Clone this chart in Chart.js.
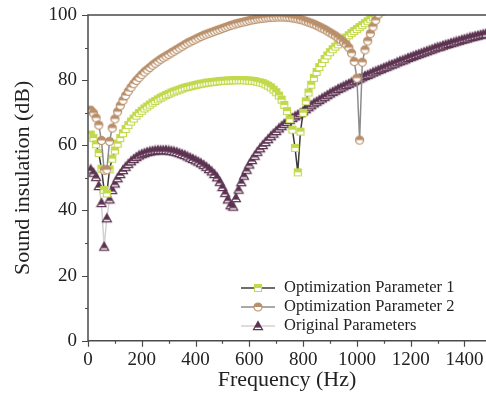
<!DOCTYPE html>
<html>
<head>
<meta charset="utf-8">
<script src="https://cdn.jsdelivr.net/npm/chart.js@4"></script>
<style>
  html, body { margin: 0; padding: 0; background: #fff; }
  #chart { display: block; }
</style>
</head>
<body>
<canvas id="chart" width="486" height="400"></canvas>
<script>
// frequency grid (Hz) shared by all three curves
const freqs = [
  10, 20, 30, 40, 50, 60, 70, 80, 90, 100,
  110, 120, 130, 140, 150, 160, 170, 180, 190, 200,
  210, 220, 230, 240, 250, 260, 270, 280, 290, 300,
  310, 320, 330, 340, 350, 360, 370, 380, 390, 400,
  410, 420, 430, 440, 450, 460, 470, 480, 490, 500,
  510, 520, 530, 540, 550, 560, 570, 580, 590, 600,
  610, 620, 630, 640, 650, 660, 670, 680, 690, 700,
  710, 720, 730, 740, 750, 760, 770, 780, 790, 800,
  810, 820, 830, 840, 850, 860, 870, 880, 890, 900,
  910, 920, 930, 940, 950, 960, 970, 980, 990, 1000,
  1010, 1020, 1030, 1040, 1050, 1060, 1070, 1080, 1090, 1100,
  1110, 1120, 1130, 1140, 1150, 1160, 1170, 1180, 1190, 1200,
  1210, 1220, 1230, 1240, 1250, 1260, 1270, 1280, 1290, 1300,
  1310, 1320, 1330, 1340, 1350, 1360, 1370, 1380, 1390, 1400,
  1410, 1420, 1430, 1440, 1450, 1460, 1470, 1480
];

// Optimization Parameter 1 (dB)
const opt1 = [
  63.3, 62.2, 60.3, 57.6, 52.8, 46.3, 45.2, 52.6, 55.9, 58.4,
  60.5, 62.2, 63.7, 65.0, 66.2, 67.3, 68.2, 69.1, 69.9, 70.6,
  71.3, 71.9, 72.5, 73.1, 73.6, 74.1, 74.6, 75.0, 75.4, 75.8,
  76.2, 76.5, 76.8, 77.1, 77.4, 77.7, 77.9, 78.1, 78.3, 78.5,
  78.7, 78.9, 79.0, 79.2, 79.3, 79.4, 79.5, 79.6, 79.7, 79.8,
  79.8, 79.9, 79.9, 80.0, 80.0, 80.0, 80.0, 80.0, 79.9, 79.9,
  79.8, 79.7, 79.5, 79.3, 79.1, 78.7, 78.3, 77.8, 77.1, 76.3,
  75.3, 74.0, 72.4, 70.5, 68.0, 64.8, 59.2, 51.7, 64.2, 70.0,
  73.5, 76.2, 78.6, 80.7, 82.5, 84.0, 85.3, 86.5, 87.6, 88.6,
  89.5, 90.3, 91.0, 91.7, 92.4, 93.1, 93.8, 94.5, 95.1, 95.7,
  96.3, 96.9, 97.5, 98.1, 98.7, 99.3, 99.8, 100.4, 101.0, 101.6
];

// Optimization Parameter 2 (dB)
const opt2 = [
  70.8, 69.9, 68.4, 66.2, 61.5, 52.3, 52.5, 61.2, 65.3, 68.1,
  70.3, 72.2, 73.8, 75.3, 76.6, 77.8, 78.9, 79.9, 80.8, 81.7,
  82.5, 83.2, 83.9, 84.6, 85.2, 85.8, 86.4, 86.9, 87.4, 87.9,
  88.4, 88.9, 89.4, 89.9, 90.4, 90.9, 91.4, 91.8, 92.2, 92.6,
  93.0, 93.4, 93.8, 94.1, 94.4, 94.7, 95.0, 95.3, 95.6, 95.9,
  96.2, 96.5, 96.8, 97.0, 97.3, 97.5, 97.7, 97.9, 98.1, 98.3,
  98.5, 98.6, 98.8, 98.9, 99.0, 99.1, 99.2, 99.3, 99.3, 99.4,
  99.4, 99.4, 99.4, 99.3, 99.2, 99.1, 99.0, 98.8, 98.6, 98.4,
  98.1, 97.8, 97.5, 97.2, 96.8, 96.4, 96.0, 95.6, 95.1, 94.6,
  94.1, 93.6, 93.0, 92.4, 91.7, 91.0, 90.0, 88.3, 85.7, 80.6,
  61.6, 85.5, 89.3, 92.0, 94.3, 96.4, 98.4, 100.3, 102.0, 103.6
];

// Original Parameters (dB)
const original = [
  52.6, 51.6, 50.3, 47.5, 42.3, 28.9, 37.6, 43.4, 46.3, 48.3,
  49.9, 51.2, 52.4, 53.4, 54.3, 55.1, 55.8, 56.4, 56.9, 57.3,
  57.6, 57.9, 58.1, 58.3, 58.4, 58.5, 58.5, 58.5, 58.5, 58.4,
  58.3, 58.1, 57.9, 57.6, 57.3, 57.0, 56.6, 56.2, 55.8, 55.4,
  55.0, 54.5, 54.0, 53.4, 52.7, 52.0, 51.2, 50.2, 48.8, 47.2,
  45.4, 43.4, 41.6, 41.2, 43.8, 46.4, 48.7, 50.7, 52.5, 54.1,
  55.5, 56.8, 58.0, 59.1, 60.1, 61.0, 61.9, 62.8, 63.6, 64.4,
  65.2, 65.9, 66.6, 67.2, 67.8, 68.4, 68.9, 69.4, 69.9, 70.5,
  71.1, 71.7, 72.3, 72.9, 73.4, 73.9, 74.4, 74.9, 75.4, 75.9,
  76.4, 76.8, 77.3, 77.7, 78.1, 78.5, 78.9, 79.3, 79.7, 80.1,
  80.5, 80.9, 81.3, 81.6, 82.0, 82.4, 82.7, 83.1, 83.4, 83.8,
  84.1, 84.5, 84.8, 85.1, 85.5, 85.8, 86.1, 86.4, 86.8, 87.1,
  87.4, 87.7, 88.0, 88.3, 88.6, 88.9, 89.2, 89.5, 89.8, 90.1,
  90.3, 90.6, 90.9, 91.1, 91.4, 91.6, 91.9, 92.1, 92.4, 92.6,
  92.8, 93.1, 93.3, 93.5, 93.7, 93.9, 94.1, 94.3
];

const xTicks = [0, 200, 400, 600, 800, 1000, 1200, 1400];
const xMinorTicks = [100, 300, 500, 700, 900, 1100, 1300];
const yTicks = [0, 20, 40, 60, 80, 100];
const yMinorTicks = [10, 30, 50, 70, 90];

const FONT = "'Liberation Serif', 'DejaVu Serif', serif";
const AXIS = '#4a4a4a';

// half-filled markers (top part coloured, bottom white)
function markerPath(g, shape, x, y, s) {
  const h = s / 2;
  g.beginPath();
  if (shape === 'square') {
    g.rect(x - h, y - h, s, s);
  } else if (shape === 'circle') {
    g.arc(x, y, h, 0, Math.PI * 2);
  } else {
    g.moveTo(x, y - h);
    g.lineTo(x + h, y + h * 0.8);
    g.lineTo(x - h, y + h * 0.8);
    g.closePath();
  }
}

function drawMarker(g, shape, x, y, s, color) {
  markerPath(g, shape, x, y, s);
  g.fillStyle = '#fff';
  g.fill();
  g.save();
  g.clip();
  g.fillStyle = color;
  const cut = shape === 'triangle' ? y + s * 0.18 : y;
  g.fillRect(x - s, y - s, 2 * s, cut - (y - s));
  g.restore();
  markerPath(g, shape, x, y, s);
  g.strokeStyle = color;
  g.lineWidth = 1.2;
  g.stroke();
}

function makeMarker(shape, color, s) {
  const c = document.createElement('canvas');
  c.width = s + 3;
  c.height = s + 3;
  drawMarker(c.getContext('2d'), shape, c.width / 2, c.height / 2, s, color);
  return c;
}

const series = [
  { label: 'Optimization Parameter 1', values: opt1, shape: 'square', size: 7, color: '#c3d94c', line: '#3c3c3c', order: 1 },
  { label: 'Optimization Parameter 2', values: opt2, shape: 'circle', size: 8, color: '#b98f6a', line: '#8c8c8c', order: 0 },
  { label: 'Original Parameters', values: original, shape: 'triangle', size: 9, color: '#5c3351', line: '#d2d2d2', order: 2 }
];

const datasets = series.map(s => ({
  label: s.label,
  data: s.values.map((v, i) => ({ x: freqs[i], y: v })),
  borderColor: s.line,
  borderWidth: 1.5,
  pointStyle: makeMarker(s.shape, s.color, s.size),
  pointRadius: s.size / 2,
  order: s.order,
  tension: 0
}));

// axis frame, outward tick marks and the legend
const framePlugin = {
  id: 'frame',
  afterDraw(chart) {
    const { ctx, chartArea: a, scales: { x, y } } = chart;
    ctx.save();
    ctx.strokeStyle = AXIS;
    ctx.lineWidth = 1.5;
    ctx.beginPath();
    ctx.moveTo(a.right, a.top);
    ctx.lineTo(a.left, a.top);
    ctx.lineTo(a.left, a.bottom);
    ctx.lineTo(a.right, a.bottom);
    ctx.stroke();

    ctx.lineWidth = 1.2;
    ctx.beginPath();
    xTicks.forEach(v => {
      const px = Math.round(x.getPixelForValue(v)) + 0.5;
      ctx.moveTo(px, a.bottom);
      ctx.lineTo(px, a.bottom + 6);
    });
    xMinorTicks.forEach(v => {
      const px = Math.round(x.getPixelForValue(v)) + 0.5;
      ctx.moveTo(px, a.bottom);
      ctx.lineTo(px, a.bottom + 3);
    });
    yTicks.forEach(v => {
      const py = Math.round(y.getPixelForValue(v)) + 0.5;
      ctx.moveTo(a.left, py);
      ctx.lineTo(a.left - 6, py);
    });
    yMinorTicks.forEach(v => {
      const py = Math.round(y.getPixelForValue(v)) + 0.5;
      ctx.moveTo(a.left, py);
      ctx.lineTo(a.left - 3, py);
    });
    ctx.stroke();

    // legend
    const rows = [288, 307, 326];
    ctx.font = '16.5px ' + FONT;
    ctx.textBaseline = 'middle';
    ctx.textAlign = 'left';
    series.forEach((s, i) => {
      const ly = rows[i];
      ctx.strokeStyle = s.line;
      ctx.lineWidth = 1.5;
      ctx.beginPath();
      ctx.moveTo(241, ly);
      ctx.lineTo(275, ly);
      ctx.stroke();
      drawMarker(ctx, s.shape, 258, ly, s.size, s.color);
      ctx.fillStyle = '#222';
      ctx.fillText(s.label, 284, ly);
    });
    ctx.restore();
  }
};

new Chart(document.getElementById('chart'), {
  type: 'line',
  data: { datasets },
  options: {
    responsive: false,
    animation: false,
    events: [],
    layout: { autoPadding: false, padding: { top: 15, right: 0, left: 0, bottom: 0 } },
    plugins: { legend: { display: false }, tooltip: { enabled: false } },
    scales: {
      x: {
        type: 'linear',
        min: 0,
        max: 1480,
        afterBuildTicks: s => { s.ticks = xTicks.map(v => ({ value: v })); },
        afterFit: s => { s.height = 59.3; s.paddingLeft = 0; s.paddingRight = 0; },
        grid: { display: false, drawTicks: false },
        border: { display: false },
        ticks: {
          padding: 8, maxRotation: 0, autoSkip: false, color: '#222',
          font: { family: FONT, size: 19 },
          callback: v => String(v)
        },
        title: { display: true, text: 'Frequency (Hz)', color: '#222', padding: { top: 0, bottom: 7 }, font: { family: FONT, size: 22 } }
      },
      y: {
        min: 0,
        max: 100,
        afterBuildTicks: s => { s.ticks = yTicks.map(v => ({ value: v })); },
        afterFit: s => { s.width = 88; s.paddingTop = 0; s.paddingBottom = 0; },
        grid: { display: false, drawTicks: false },
        border: { display: false },
        ticks: { padding: 11, color: '#222', font: { family: FONT, size: 19 }, callback: v => String(v) },
        title: { display: true, text: 'Sound insulation (dB)', color: '#222', padding: { top: 10, bottom: 0 }, font: { family: FONT, size: 22 } }
      }
    }
  },
  plugins: [framePlugin]
});
</script>
</body>
</html>
